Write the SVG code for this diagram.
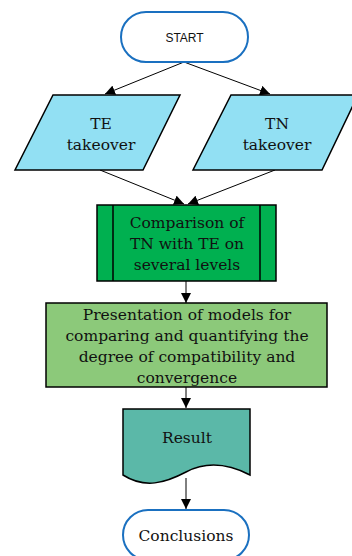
<svg xmlns="http://www.w3.org/2000/svg" width="352" height="556" viewBox="0 0 352 556">
  <style>
    .term { fill: #ffffff; stroke: #1a70c0; stroke-width: 2; }
    .shape { stroke: #000000; stroke-width: 1.5; }
    .io { fill: #92e0f3; }
    .proc1 { fill: #00b050; }
    .proc2 { fill: #8cc97a; }
    .doc { fill: #5bb8a8; }
    .edge { fill: none; stroke: #000000; stroke-width: 1; marker-end: url(#arrow); }
    .lbl { font-size: 15.5px; fill: #111111; text-anchor: middle; }
    .sans { font-size: 12px; fill: #111111; text-anchor: middle; }
  </style>
  <defs>
    <marker id="arrow" viewBox="0 0 10 10" refX="10" refY="5" markerWidth="10" markerHeight="10" markerUnits="userSpaceOnUse" orient="auto">
      <path d="M0,0 L10,5 L0,10 Z" fill="#000000"/>
    </marker>
  </defs>

  <g id="connectors">
    <line class="edge" x1="184" y1="62" x2="105" y2="94"/>
    <line class="edge" x1="184" y1="62" x2="270" y2="94"/>
    <line class="edge" x1="100" y1="170" x2="184" y2="204"/>
    <line class="edge" x1="275" y1="170" x2="188" y2="204"/>
    <line class="edge" x1="186" y1="281" x2="186" y2="303"/>
    <line class="edge" x1="186" y1="387" x2="186" y2="408"/>
    <line class="edge" x1="186" y1="478" x2="186" y2="509"/>
  </g>

  <g id="start">
    <rect class="term" x="121" y="12" width="127" height="50" rx="25" ry="25"/>
    <text class="sans" font-family="Liberation Sans, Arial, sans-serif" x="184.5" y="42">START</text>
  </g>

  <g font-family="DejaVu Serif, Liberation Serif, serif">
    <g id="te-takeover">
      <polygon class="shape io" points="53,95 180,95 143,170 15,170"/>
      <text class="lbl" x="101" y="129">TE</text>
      <text class="lbl" x="101" y="150">takeover</text>
    </g>

    <g id="tn-takeover">
      <polygon class="shape io" points="231,95 358,95 322,170 193,170"/>
      <text class="lbl" x="277" y="129">TN</text>
      <text class="lbl" x="277" y="150">takeover</text>
    </g>

    <g id="comparison">
      <rect class="shape proc1" x="97" y="205" width="179" height="76"/>
      <line class="shape" x1="113" y1="205" x2="113" y2="281"/>
      <line class="shape" x1="260" y1="205" x2="260" y2="281"/>
      <text class="lbl" x="187" y="228">Comparison of</text>
      <text class="lbl" x="187" y="249">TN with TE on</text>
      <text class="lbl" x="187" y="270">several levels</text>
    </g>

    <g id="models">
      <rect class="shape proc2" x="46" y="303" width="281" height="84"/>
      <text class="lbl" x="187" y="320">Presentation of models for</text>
      <text class="lbl" x="187" y="341">comparing and quantifying the</text>
      <text class="lbl" x="187" y="362">degree of compatibility and</text>
      <text class="lbl" x="187" y="383">convergence</text>
    </g>

    <g id="result">
      <path class="shape doc" d="M123,409 L250,409 L250,475 C225,462 205,462 186,472 C165,483 145,489 123,475 Z"/>
      <text class="lbl" x="187" y="443">Result</text>
    </g>

    <g id="conclusions">
      <rect class="term" x="123" y="510" width="126" height="50" rx="25" ry="25"/>
      <text class="lbl" x="186" y="541">Conclusions</text>
    </g>
  </g>
</svg>
